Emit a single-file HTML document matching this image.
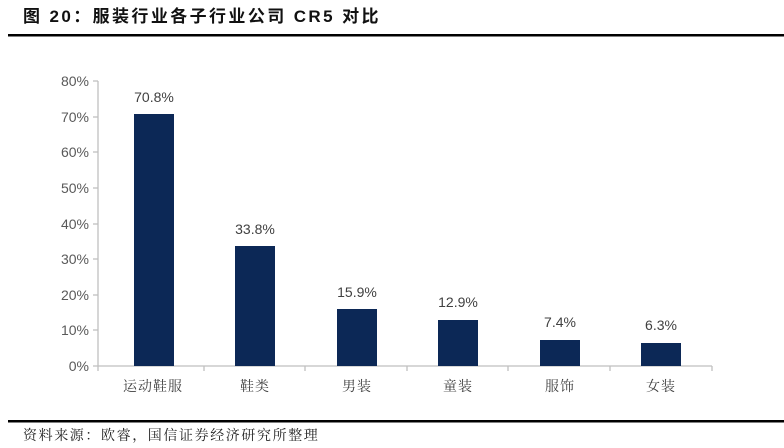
<!DOCTYPE html>
<html><head><meta charset="utf-8"><style>
html,body{margin:0;padding:0;background:#fff;}
svg{display:block;}
</style></head><body>
<svg width="784" height="448" xmlns="http://www.w3.org/2000/svg" font-family="Liberation Sans, Noto Sans CJK SC, sans-serif">
<text x="23" y="22" font-size="17" font-weight="bold" fill="#111" letter-spacing="2.4" font-family="Liberation Sans, Noto Sans CJK SC, sans-serif">图 20：服装行业各子行业公司 CR5 对比</text>
<rect x="8" y="34" width="776" height="2.5" fill="#000"/>
<g fill="#595959" font-size="14" text-anchor="end">
<text x="89" y="86">80%</text>
<text x="89" y="122">70%</text>
<text x="89" y="157">60%</text>
<text x="89" y="193">50%</text>
<text x="89" y="229">40%</text>
<text x="89" y="264">30%</text>
<text x="89" y="300">20%</text>
<text x="89" y="335">10%</text>
<text x="89" y="371">0%</text>
</g>
<g stroke="#bfbfbf" stroke-width="1.3">
<line x1="98" y1="81" x2="98" y2="366"/>
<line x1="93" y1="81" x2="98" y2="81"/>
<line x1="93" y1="117" x2="98" y2="117"/>
<line x1="93" y1="152" x2="98" y2="152"/>
<line x1="93" y1="188" x2="98" y2="188"/>
<line x1="93" y1="224" x2="98" y2="224"/>
<line x1="93" y1="259" x2="98" y2="259"/>
<line x1="93" y1="295" x2="98" y2="295"/>
<line x1="93" y1="330" x2="98" y2="330"/>
<line x1="93" y1="366" x2="712" y2="366"/>
<line x1="98" y1="366" x2="98" y2="371"/>
<line x1="204" y1="366" x2="204" y2="371"/>
<line x1="305" y1="366" x2="305" y2="371"/>
<line x1="407" y1="366" x2="407" y2="371"/>
<line x1="508" y1="366" x2="508" y2="371"/>
<line x1="610" y1="366" x2="610" y2="371"/>
<line x1="712" y1="366" x2="712" y2="371"/>
</g>
<g fill="#0c2856">
<rect x="134" y="114" width="40" height="252"/>
<rect x="235" y="246" width="40" height="120"/>
<rect x="337" y="309" width="40" height="57"/>
<rect x="438" y="320" width="40" height="46"/>
<rect x="540" y="340" width="40" height="26"/>
<rect x="641" y="343" width="40" height="23"/>
</g>
<g fill="#404040" font-size="14" text-anchor="middle">
<text x="154" y="102">70.8%</text>
<text x="255" y="234">33.8%</text>
<text x="357" y="297">15.9%</text>
<text x="458" y="307">12.9%</text>
<text x="560" y="327">7.4%</text>
<text x="661" y="330">6.3%</text>
</g>
<g fill="#404040" font-size="14" text-anchor="middle" letter-spacing="1" font-family="Liberation Serif, Noto Serif CJK SC, serif">
<text x="153" y="391">运动鞋服</text>
<text x="255" y="391">鞋类</text>
<text x="357" y="391">男装</text>
<text x="458" y="391">童装</text>
<text x="560" y="391">服饰</text>
<text x="661" y="391">女装</text>
</g>
<rect x="8" y="420" width="776" height="2.5" fill="#000"/>
<text x="23" y="440" font-size="14" fill="#222" letter-spacing="1.6" font-family="Liberation Serif, Noto Serif CJK SC, serif">资料来源：欧睿，国信证券经济研究所整理</text>
</svg>
</body></html>
